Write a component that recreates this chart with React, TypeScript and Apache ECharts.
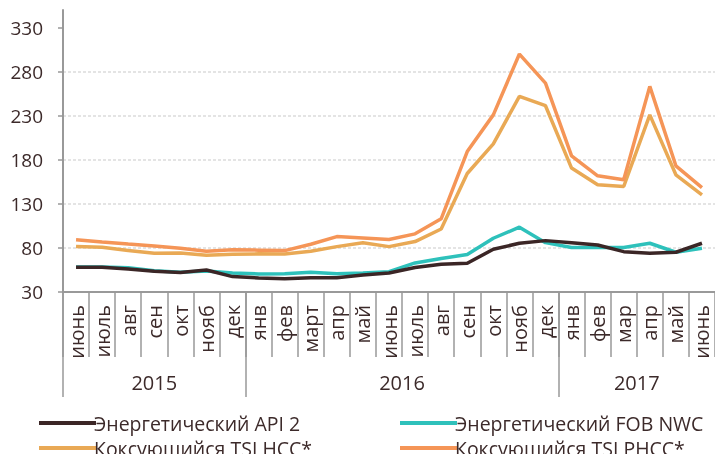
import React, { useEffect, useRef } from "react";
import * as echarts from "echarts";

const months = ["июнь","июль","авг","сен","окт","нояб","дек","янв","фев","март","апр","май","июнь","июль","авг","сен","окт","нояб","дек","янв","фев","мар","апр","май","июнь"];
const years = ["2015", "2016", "2017"];
const yearSpans = [7, 12, 6];
const yTicks = [30, 80, 130, 180, 230, 280, 330];

const api2 = [58, 58, 56, 53.5, 52, 55, 47.5, 46, 45, 46.3, 46.3, 49.3, 51.5, 57.8, 61.5, 62.6, 78.5, 85.3, 88.3, 86, 83.4, 75.8, 74, 75.1, 85.3];
const fobNwc = [58.4, 58.4, 57.6, 54.2, 52.4, 53.9, 51.6, 50.5, 50.8, 52.4, 50.8, 51.6, 53, 63, 68, 72.5, 91, 103.5, 86, 80.4, 80.4, 80.4, 85.3, 75.1, 79.6];
const tsiHcc = [81.5, 80.8, 77, 74, 74.3, 71.7, 72.8, 73.3, 73.2, 76.2, 81.5, 86, 81.5, 87.2, 101.5, 164.5, 198, 252, 241.4, 170.6, 151.6, 149.7, 231, 163, 140.2];
const tsiPhcc = [89.4, 86.8, 84.5, 82.3, 79.6, 76.2, 78, 77.5, 77, 84.2, 92.9, 91.4, 89.6, 96, 113, 189.4, 231, 300, 267, 184.5, 161.8, 157.3, 263.3, 173.2, 148.5];

const names = ["Энергетический API 2", "Энергетический FOB NWC", "Коксующийся TSI HCC*", "Коксующийся TSI PHCC*"];
const colors = ["#3b2626", "#2ec1bb", "#e9a955", "#f59557"];

const FONT = "Open Sans";
const TEXT = "#3c2a2a";
const AXIS = "#999999";

export default function App() {
  const ref = useRef<HTMLDivElement>(null);
  useEffect(() => {
    if (!ref.current) return;
    const chart = echarts.init(ref.current, undefined, { renderer: "svg" });

    // year axis on half-month points: index 2*k is the boundary before month k
    const halfCount = months.length * 2 + 1;
    const yc: string[] = new Array(halfCount).fill("");
    const boundaries = new Set<number>();
    let start = 0;
    years.forEach((y, k) => {
      boundaries.add(start * 2);
      yc[start * 2 + yearSpans[k]] = y;
      start += yearSpans[k];
    });

    const seriesData = [api2, fobNwc, tsiHcc, tsiPhcc];
    const legendBase = {
      orient: "vertical",
      top: 408,
      height: 80,
      itemWidth: 57,
      itemHeight: 4,
      itemGap: 5,
      icon: "rect",
      textStyle: { fontFamily: FONT, fontSize: 19.5, color: TEXT, padding: [0, 0, 0, -7], lineHeight: 19 },
    };

    chart.setOption({
      animation: false,
      textStyle: { fontFamily: FONT },
      grid: { left: 63, top: 10, width: 655, bottom: 162, containLabel: false },
      legend: [
        { ...legendBase, left: 34, data: [names[0], names[2]] },
        { ...legendBase, left: 395, data: [names[1], names[3]] },
      ],
      xAxis: [
        {
          type: "category",
          data: months,
          boundaryGap: true,
          axisLine: { lineStyle: { color: AXIS, width: 2 } },
          axisTick: { show: true, interval: 0, length: 65, lineStyle: { color: AXIS, width: 1.5 } },
          axisLabel: { interval: 0, rotate: 90, margin: 13, fontSize: 20, color: TEXT, fontFamily: FONT },
        },
        {
          type: "category",
          data: yc,
          boundaryGap: false,
          position: "bottom",
          axisLine: { show: false },
          axisTick: {
            show: true,
            length: 105,
            interval: (i: number) => boundaries.has(i),
            lineStyle: { color: AXIS, width: 1.5 },
          },
          axisLabel: {
            interval: (_i: number, v: string) => v !== "",
            margin: 80,
            fontSize: 20,
            color: TEXT,
            fontFamily: FONT,
          },
        },
      ],
      yAxis: {
        type: "value",
        min: 30,
        max: 350,
        interval: 50,
        axisLine: { show: true, lineStyle: { color: AXIS, width: 2 } },
        axisTick: { show: true, length: 5, customValues: yTicks, lineStyle: { color: AXIS, width: 1.5 } },
        axisLabel: {
          customValues: yTicks,
          margin: 20,
          fontSize: 19,
          color: TEXT,
          fontFamily: FONT,
          formatter: (v: number) => (v === 350 ? "" : String(v)),
        },
        splitLine: { show: true, showMaxLine: false, lineStyle: { color: "#dcdcdc", width: 1.5, type: [3, 2] } },
      },
      series: names.map((n, k) => ({
        name: n,
        type: "line",
        xAxisIndex: 0,
        data: seriesData[k],
        symbol: "none",
        lineStyle: { color: colors[k], width: 3.5 },
        itemStyle: { color: colors[k] },
        z: k === 0 ? 5 : 2 + k,
      })),
    });
    return () => chart.dispose();
  }, []);
  return <div ref={ref} style={{ position: "fixed", left: 0, top: 0, width: 715, height: 454 }} />;
}
